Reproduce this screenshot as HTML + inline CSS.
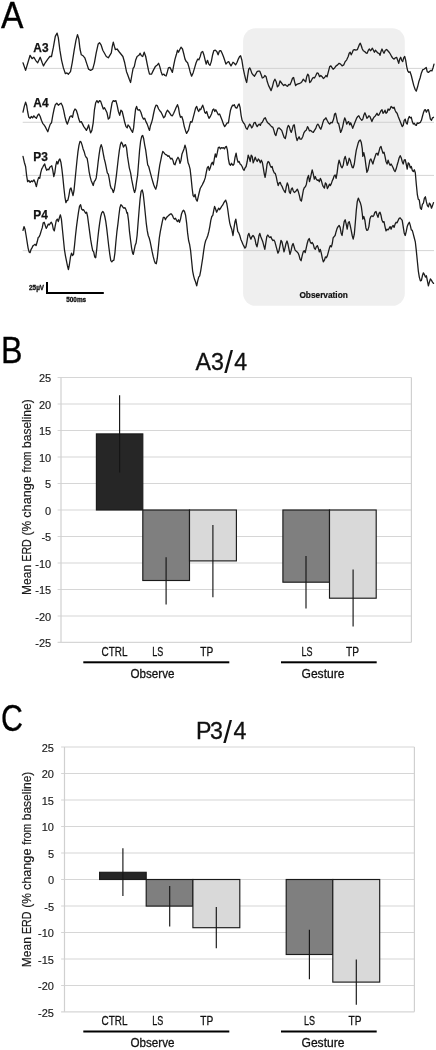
<!DOCTYPE html>
<html lang="en">
<head>
<meta charset="utf-8">
<title>Figure: EEG traces and mean ERD</title>
<style>
html,body{margin:0;padding:0;background:#fff;}
body{width:436px;height:1050px;overflow:hidden;}
svg{display:block;}
text{font-family:"Liberation Sans",Arial,Helvetica,sans-serif;fill:#111;}
.panel{font-size:36.2px;fill:#000;stroke:#000;stroke-width:0.3;}
.title{font-size:23.2px;fill:#111;stroke:#111;stroke-width:0.3;}
.tick{font-size:11px;text-anchor:end;fill:#1a1a1a;stroke:#1a1a1a;stroke-width:0.15;}
.cat{font-size:12.3px;text-anchor:middle;fill:#111;stroke:#111;stroke-width:0.28;}
.ylab{font-size:12.3px;fill:#1a1a1a;stroke:#1a1a1a;stroke-width:0.2;}
.ch{font-size:11.9px;font-weight:bold;fill:#111;stroke:#111;stroke-width:0.25;}
.sm{font-size:6.35px;font-weight:bold;fill:#111;stroke:#111;stroke-width:0.3;}
.obs{font-size:8.3px;font-weight:bold;fill:#111;text-anchor:middle;stroke:#111;stroke-width:0.2;}
.grid{stroke:#d6d6d6;stroke-width:1.1;}
.axis{stroke:#d0d0d0;stroke-width:1.2;}
.bar{stroke:#1a1a1a;stroke-width:1.15;}
.err{stroke:#151515;stroke-width:1.15;}
.base{stroke:#c9c9c9;stroke-width:0.8;}
.trace{fill:none;stroke:#1c1c1c;stroke-width:1.3;stroke-linejoin:round;stroke-linecap:round;}
</style>
</head>
<body>
<svg width="436" height="1050" viewBox="0 0 436 1050">
<rect width="436" height="1050" fill="#fff"/>
<!-- Panel A -->
<rect x="243.1" y="28.3" width="161.7" height="277.5" rx="12.5" ry="12.5" fill="#efefef"/>
<line x1="27.5" y1="68.4" x2="434" y2="68.4" class="base"/>
<line x1="22.7" y1="122.3" x2="434" y2="122.3" class="base"/>
<line x1="22.7" y1="175.4" x2="434" y2="175.4" class="base"/>
<line x1="22.7" y1="250.6" x2="434" y2="250.6" class="base"/>
<path class="trace" d="M23,62.8 L25.6,70.4 L30.1,55.3 L32.1,58.6 L33.9,57.3 L35.6,60.3 L37.7,62.8 L40.2,57.3 L42.2,62.8 L43.5,65.9 L45.2,62.8 L47.8,59.1 L49.8,56.5 L51.5,56.5 L53.3,47.7 L55.3,36.4 L57.1,33.1 L58.3,37.6 L59.9,50.2 L61.6,60.3 L63.4,67.9 L65.4,73.7 L66.9,72.9 L68.4,74.2 L70.5,71.7 L72.2,62.8 L74.2,50.2 L76,40.1 L77.5,34.6 L78.8,38.9 L80,49 L81.3,54.8 L83.1,55.8 L84.8,57.8 L86.9,64.1 L88.6,69.2 L90.6,70.4 L92.7,69.2 L94.4,62.8 L96.2,52.8 L98.2,43.9 L99.5,42.7 L101.2,45.2 L102.8,50.2 L104.5,53.3 L106.3,56.5 L108.3,57.8 L110.1,54.8 L111.3,52.8 L112.3,46.4 L113.3,42.2 L114.4,46.4 L115.4,49.7 L117.1,49 L118.9,51.5 L120.9,54 L122.9,56.5 L124.7,62.8 L126.5,71.7 L127.5,74.2 L129.3,79.2 L130.6,82.5 L131.8,75.5 L133.1,68.4 L134.3,66.6 L135.6,60.3 L137.1,56.5 L138.9,55.3 L140.1,53.3 L141.4,55.8 L142.7,56.5 L144.2,52.2 L145.7,56.5 L147.2,64.1 L148.5,70.4 L149.5,74.2 L151.5,74.2 L153.3,70.4 L155.3,66.6 L157.3,64.9 L158.6,63.3 L159.8,66.6 L161.1,71.7 L162.3,75 L163.9,74.2 L164.9,75.5 L166.1,76 L167.4,71.7 L168.4,67.9 L169.9,67.4 L171.2,69.9 L172.4,72.4 L173.7,65.4 L175,59.1 L176.5,54 L177.5,50.2 L178.5,52.2 L179.7,49.7 L181,47.2 L182.5,49 L183.8,54 L185,59.1 L186.3,61.6 L187.6,62.8 L188.8,66.6 L190.1,71.7 L191.6,76.2 L193.1,72.9 L194.6,67.9 L196.1,62.8 L197.7,59.1 L198.9,59.8 L200.2,56.5 L201.4,52.2 L202.7,51.5 L204,55.3 L205.2,60.3 L206.2,64.1 L207.5,60.3 L208.8,64.1 L210,65.4 L211.3,61.6 L212.5,55.3 L213.8,50.7 L215.3,50.2 L216.8,51.5 L218.1,54.8 L219.4,51 L220.9,50.7 L222.1,53.3 L223.4,56.5 L224.7,60.3 L225.9,64.1 L227.4,62.3 L228.7,61.6 L230,64.1 L231,65.9 L232.5,63.3 L233,62.3 L234.3,63.3 L235.6,64.9 L237.1,62.3 L238.3,59.1 L239.6,56.5 L240.6,55.8 L241.9,60.3 L243.1,67.9 L244.4,74.2 L245.6,79.2 L246.7,82.5 L247.7,75.5 L248.7,69.2 L249.7,67.9 L250.7,69.9 L251.9,73.4 L253.2,75 L254.5,76.2 L255.7,74.2 L257,71.7 L258.3,71.2 L259.8,71.2 L261,74.2 L262.3,78 L263.6,77.5 L264.8,75.5 L266.1,76.7 L267.3,81.8 L268.6,85.6 L269.9,88.1 L271.1,90.6 L272.4,86.8 L273.6,81.8 L274.9,79.2 L276.2,81.8 L277.4,86.8 L278.7,85.6 L280,81 L281.2,82.5 L282.5,84.3 L283.7,85.6 L285,84.5 L286.3,85.6 L287.5,86.3 L288.8,84.3 L290,84.8 L291.3,81.8 L292.6,78 L293.6,77.5 L294.6,81.8 L295.6,85.6 L296.9,84.3 L298.1,83.8 L299.4,83.5 L300.6,83 L301.9,81.8 L303.2,79.2 L304.4,80.5 L305.7,81.8 L306.7,76.7 L307.7,74.2 L308.7,75.5 L309.7,82.5 L310.7,81.8 L312,79.2 L313.3,77.5 L314.5,78 L315.8,75.5 L317,72.9 L318.3,73.4 L319.6,76.7 L320.8,75.5 L322.1,76.7 L323.3,78.5 L324.6,77.5 L325.9,75.5 L327.1,76.7 L328.4,71.7 L329.7,66.6 L330.9,65.9 L332.2,67.9 L333.1,69.2 L334.6,67.9 L336.1,65.9 L337.6,64.9 L339.1,63.3 L340.6,64.1 L342.1,65.9 L343.7,64.9 L345.2,61.6 L346.7,59.8 L348.2,56.5 L349.2,53.3 L350.2,52.2 L351.2,54.8 L352.2,52.8 L353.2,50.2 L354.5,49.7 L355.8,50.2 L357.3,49.7 L358.3,47.2 L359.3,44.7 L360.3,43.2 L361.3,45.7 L362.3,49 L363.3,50.7 L364.6,51.5 L365.9,52.8 L367.1,53.3 L368.4,50.2 L369.4,49 L370.4,50.7 L371.4,49.7 L372.4,48.2 L373.4,50.2 L374.4,52.2 L375.4,50.2 L376.5,51.5 L377.7,52.8 L379,53.3 L380,55.3 L381,51.5 L382,49 L383,51.5 L384,53.3 L385.3,50.2 L386.6,49.5 L387.8,50.7 L389.1,52.2 L390.3,54 L391.6,56.5 L392.9,58.3 L394.1,59.1 L395.4,57.8 L396.6,57.3 L397.7,60.3 L398.7,63.3 L399.7,59.1 L400.7,57.3 L401.7,60.3 L402.7,61.6 L403.7,57.8 L404.7,56.5 L405.7,60.3 L406.7,66.6 L407.7,70.9 L408.8,72.4 L410,71.7 L411.3,75.5 L412.5,80.5 L413.8,85.6 L415.1,89.3 L416.3,91.1 L417.6,86.8 L418.8,81.8 L420.1,78 L421.4,72.9 L422.6,69.9 L423.9,69.2 L425.2,68.4 L426.2,67.4 L427.2,71.7 L428.4,72.4 L429.7,71.2 L431,70.4 L432,70.9 L433,67.9 L434,64.1"/>
<path class="trace" d="M23,112.2 L24.3,106.4 L25.6,102.2 L26.6,105.2 L27.6,111.5 L28.8,117.3 L30.1,118.3 L31.4,116.5 L32.6,117.8 L33.9,115.8 L35.1,117.3 L36.4,118.3 L37.7,115.3 L38.9,114 L40.2,116.5 L41.4,120.3 L42.7,123.3 L44,124.9 L45.2,126.6 L46.5,129.2 L47.8,131.7 L49,127.9 L50.3,124.1 L51.5,122.8 L52.8,115.3 L54.1,109 L55.3,104.7 L56.8,103.2 L58.3,105.2 L59.9,103.9 L61.1,103.2 L62.4,105.7 L63.6,110.2 L64.9,116.5 L66.2,121.6 L67.4,124.1 L68.7,120.3 L70,116.5 L71.2,115.8 L72.5,117.3 L73.7,111.5 L75,109 L76.3,110.2 L77.5,114 L78.8,119.1 L80,122.3 L81.3,121.6 L82.6,124.1 L83.8,126.6 L85.1,128.4 L86.4,130.4 L87.6,127.9 L88.6,124.9 L89.6,129.2 L90.6,132.9 L91.9,130.4 L93.2,122.8 L94.4,110.2 L95.7,102.7 L96.9,100.6 L98.2,102.7 L99.5,100.6 L100.7,101.4 L102,105.2 L103.3,109 L104.5,107.7 L105.8,110.2 L107,112.8 L108.3,119.1 L109.6,117.8 L110.8,110.2 L112.1,102.7 L113.3,100.6 L114.6,101.4 L115.9,100.6 L117.1,105.2 L118.4,111.5 L119.7,115.3 L120.9,110.2 L122.2,111.5 L123.4,116.5 L124.7,122.3 L126,126.6 L127.2,127.9 L128,124.9 L129.5,126.6 L131.1,129.9 L132.6,132.4 L133.6,127.9 L134.6,117.8 L135.6,109 L136.6,106.4 L137.6,109.7 L138.6,110.2 L139.6,109.7 L140.9,112.2 L142.2,116.5 L143.4,119.1 L144.7,118.3 L145.9,121.6 L147.2,124.1 L148.5,127.9 L149.5,130.4 L150.5,125.4 L151.5,122.8 L152.5,119.1 L153.5,114 L154.8,108.2 L156,105.2 L157.3,105.7 L158.6,109 L159.8,110.7 L161.1,112.2 L162.3,114.8 L163.6,117.8 L164.9,116.5 L166.1,112.8 L167.4,110.2 L168.6,111.5 L169.9,113.3 L171.2,115.3 L172.4,115.8 L173.7,113.3 L175,110.2 L176.2,107.2 L177.5,104.7 L178.5,107.7 L179.5,114 L180.5,117.3 L181.8,116.5 L183,120.3 L184.3,126.6 L185.6,130.9 L186.6,133.4 L187.6,131.7 L188.6,129.9 L189.6,125.4 L190.6,121.6 L191.9,122.3 L193.1,117.8 L194.4,112.8 L195.6,108.2 L196.7,106.4 L197.7,109.7 L198.7,111.5 L199.7,109 L200.7,109.7 L201.7,107.2 L202.7,105.2 L203.7,108.2 L204.7,112.2 L205.7,113.3 L206.7,111.5 L207.8,115.3 L209,118.3 L210.3,116.5 L211.5,114 L212.8,109.7 L213.8,109 L214.8,111.5 L215.8,109.7 L217.1,112.2 L218.3,114.8 L219.6,114 L220.9,117.3 L222.1,120.3 L223.4,124.1 L224.7,126.6 L225.9,124.9 L227.2,122.8 L228.4,122.8 L229.4,116.5 L230.5,110.2 L231.5,107.2 L232.5,105.2 L233,105.7 L234.3,104.7 L235.6,107.7 L236.8,108.2 L238.1,105.2 L239.1,103.9 L240.1,107.7 L241.1,115.3 L242.1,120.3 L243.4,122.8 L244.6,124.1 L245.9,127.9 L247.2,129.2 L248.4,126.6 L249.7,124.1 L250.7,125.4 L251.7,127.9 L252.7,126.6 L254,122.8 L255.2,122.3 L256.2,124.9 L257.2,126.6 L258.3,124.9 L259.3,124.1 L260.3,125.4 L261.3,122.8 L262.3,122.3 L263.3,120.3 L264.3,118.3 L265.3,117.8 L266.3,120.3 L267.3,122.3 L268.3,123.3 L269.4,124.1 L270.4,125.4 L271.6,126.6 L272.9,127.4 L273.9,130.4 L274.9,134.2 L275.9,135.5 L276.9,131.7 L277.9,128.4 L279.2,127.9 L280.5,129.2 L281.7,130.4 L283,134.2 L284.2,137.5 L285.3,138.5 L286.3,134.2 L287.3,127.9 L288.3,125.4 L289.3,126.6 L290.3,130.4 L291.3,132.4 L292.3,129.2 L293.3,125.4 L294.3,124.9 L295.1,130.4 L296.1,136.7 L297.1,140.5 L298.1,138.5 L299.1,136.7 L300.1,139.2 L301.4,139.2 L302.7,136.7 L303.9,132.9 L305.2,130.9 L306.4,129.9 L307.5,126.6 L308.5,128.4 L309.5,130.9 L310.7,130.4 L312,131.7 L313.3,132.4 L314.5,130.4 L315.8,128.4 L316.8,125.4 L317.8,124.1 L318.8,125.4 L319.8,127.9 L320.8,129.2 L321.8,126.6 L322.8,122.8 L323.9,119.8 L324.9,119.1 L325.9,117.8 L327.1,120.3 L328.4,122.8 L329.7,124.1 L330.9,122.3 L332.2,122.8 L333.6,119.1 L334.6,114 L335.6,113.3 L336.6,117.8 L337.6,122.8 L338.6,123.3 L339.6,127.9 L340.6,132.4 L341.6,130.4 L342.7,126.6 L343.7,121.6 L344.7,117.8 L345.7,120.3 L346.7,124.1 L347.7,122.3 L348.7,121.6 L349.7,124.9 L350.7,122.8 L351.7,125.4 L352.7,128.4 L353.8,125.4 L354.8,122.8 L355.8,120.3 L356.8,117.8 L357.8,116.5 L358.8,115.8 L359.8,117.8 L360.8,119.1 L361.8,120.3 L362.8,119.1 L363.8,115.3 L364.9,112.8 L365.9,115.3 L366.9,118.3 L367.9,117.3 L368.9,115.8 L369.9,116.5 L370.9,119.1 L371.9,121.6 L372.9,119.1 L373.9,117.3 L374.9,116.5 L376,114.8 L377,113.3 L378,115.3 L379,114.8 L380,112.8 L381,110.7 L382,109.7 L383,113.3 L384,112.2 L385,110.2 L386,113.3 L387.1,112.2 L388.1,109 L389.1,110.2 L390.1,109 L391.1,106.4 L392.1,107.2 L393.1,108.2 L394.1,107.2 L395.1,110.2 L396.1,112.2 L397.1,113.3 L398.2,116.5 L399.2,119.1 L400.2,121.6 L401.2,124.1 L402.2,126.6 L403.2,125.4 L404.2,120.3 L405.2,119.1 L406.2,122.8 L407.2,124.1 L408.2,119.1 L409.3,116.5 L410.3,117.8 L411.3,117.3 L412.3,121.6 L413.3,124.1 L414.3,123.3 L415.3,124.9 L416.3,125.4 L417.3,122.8 L418.3,123.3 L419.3,122.8 L420.4,122.3 L421.4,120.3 L422.4,116.5 L423.4,112.8 L424.4,110.2 L425.4,109.7 L426.4,112.2 L427.4,110.2 L428.4,109.7 L429.4,114 L430.4,119.1 L431.5,120.3 L432.5,117.8 L433.5,117.3"/>
<path class="trace" d="M23,156.4 L24.3,162.2 L25.6,166.5 L26.6,175.4 L27.6,181.7 L28.8,180.4 L30.1,182.4 L31.4,180.9 L32.6,181.7 L33.9,179.9 L35.1,182.4 L36.4,186.7 L37.7,180.4 L38.7,177.4 L39.7,178.4 L40.7,172.8 L41.7,169.1 L42.7,167.3 L43.7,165.3 L44.7,164 L45.7,167.8 L46.7,170.3 L47.8,169.1 L48.8,169.8 L49.8,167.3 L50.8,166.5 L51.8,165.8 L52.8,170.3 L53.8,176.6 L54.8,172.8 L55.8,165.3 L56.8,161.5 L57.8,164 L58.9,160.2 L59.9,159 L60.9,162.2 L61.9,169.1 L62.9,177.9 L63.9,188 L64.9,196.8 L65.9,202.6 L66.9,200.6 L67.9,200.1 L68.9,195.6 L70,189.2 L71,188 L72,191.8 L73,195.6 L74,190.5 L75,180.4 L76,170.3 L77,160.2 L78,151.4 L79,145.1 L80,141.3 L81.1,142.1 L82.1,145.1 L83.1,148.9 L84.1,151.4 L85.1,155.2 L86.1,157.2 L87.1,158.2 L88.1,164 L89.1,171.6 L90.1,176.6 L91.1,180.4 L92.2,182.9 L93.2,185.5 L94.2,181.7 L95.2,180.4 L96.2,177.9 L97.2,170.3 L98.2,161.5 L99.2,153.9 L100.2,147.6 L101.2,144.6 L102.2,147.6 L103.3,153.9 L104.3,159 L105.3,162.8 L106.3,167.8 L107.3,172.8 L108.3,174.1 L109.3,179.2 L110.3,185.5 L111.3,188.5 L112.3,189.2 L113.3,192.5 L114.4,189.2 L115.4,182.9 L116.4,175.4 L117.4,166.5 L118.4,157.7 L119.4,150.1 L120.4,144.6 L121.4,142.1 L122.4,143.8 L123.4,147.1 L124.4,145.6 L125.5,144.6 L126.5,147.6 L127.5,156.4 L128.3,161.5 L129.3,167.8 L130.6,172.8 L131.6,179.2 L132.6,184.2 L133.6,189.2 L134.6,192.5 L135.6,189.2 L136.6,181.7 L137.6,175.4 L138.6,162.8 L139.6,150.1 L140.6,141.3 L141.7,136.3 L142.7,135.5 L143.7,138.8 L144.7,145.1 L145.7,150.1 L146.7,157.7 L147.7,164.8 L148.7,166.5 L149.7,170.3 L150.7,174.1 L151.7,177.9 L152.8,181.7 L153.8,185 L154.8,187.5 L155.8,189.2 L156.8,185.5 L157.8,179.2 L158.8,171.6 L159.8,164.8 L160.8,160.2 L161.8,155.2 L162.8,151.4 L163.9,152.7 L164.9,153.9 L165.9,154.7 L166.9,155.2 L167.9,156.4 L168.9,155.7 L169.9,157.7 L170.9,159 L171.9,158.2 L172.9,160.2 L173.9,164 L175,164.8 L176,161.5 L177,159 L178,157.2 L179,159 L180,163.3 L181,160.2 L182,153.9 L183,151.4 L184,148.9 L185,145.1 L186.1,148.9 L187.1,156.4 L188.1,162.8 L189.1,165.3 L190.1,169.1 L191.1,177.9 L192.1,188 L193.1,195.6 L194.1,196.8 L195.1,194.3 L196.1,199.3 L197.2,201.1 L198.2,196.8 L199.2,192.5 L200.2,188.5 L201.2,186.7 L202.2,185 L203.2,182.9 L204.2,180.9 L205.2,177.9 L206.2,172.8 L207.2,167.8 L208.3,166.5 L209.3,170.3 L210.3,167.8 L211.3,164 L212.3,162.2 L213.3,164.8 L214.3,159 L215.3,153.9 L216.3,157.2 L217.3,152.7 L218.3,147.6 L219.4,147.1 L220.4,148.9 L221.4,147.6 L222.4,148.1 L223.4,147.6 L224.4,148.9 L225.4,147.1 L226.4,146.4 L227.4,150.1 L228.4,159 L229.4,164 L230.5,165.3 L231.5,163.3 L232.5,164.8 L233,165.3 L234,164 L235,157.7 L236.1,153.2 L237.1,159 L238.1,162.2 L239.1,161.5 L240.1,164 L241.1,164.8 L242.1,166.5 L243.1,169.1 L244.1,170.3 L245.1,167.8 L246.1,166.5 L247.2,161.5 L248.2,155.2 L249.2,157.7 L250.2,161.5 L251.2,155.2 L252.2,156.4 L253.2,162.8 L254.2,160.2 L255.2,157.2 L256.2,159.7 L257.2,161.5 L258.3,159 L259.3,160.2 L260.3,162.8 L261.3,160.2 L262.3,162.2 L263.3,167.8 L264.3,174.1 L265.1,177.4 L266.1,171.6 L267.1,164 L268.1,161.5 L269.1,162.2 L270.1,165.3 L271.1,167.3 L272.1,166.5 L273.1,170.3 L274.2,172.8 L275.2,173.3 L276.2,176.6 L277.2,181.7 L278.2,185.5 L279.2,182.9 L280.2,182.4 L281.2,185 L282.2,186.7 L283.2,189.2 L284.2,191 L285.3,192.5 L286.3,186.7 L287.3,182.9 L288.3,185.5 L289.3,191.8 L290.3,193.5 L291.3,189.2 L292.3,188 L293.3,191 L294.3,192.5 L295.3,191.8 L296.4,190.5 L297.4,189.2 L298.4,191.8 L299.4,195.6 L300.4,200.1 L301.4,201.1 L302.4,195.6 L303.4,190 L304.4,187.5 L305.4,186.7 L306.4,184.2 L307.5,177.9 L308.5,175.4 L309.5,181.7 L310.5,177.9 L311.5,172.8 L312.2,169.8 L313.3,174.1 L314.3,179.2 L315.3,176.6 L316.3,179.2 L317.3,180.4 L318.3,179.9 L319.3,181.7 L320.3,178.4 L321.3,180.4 L322.3,184.2 L323.3,186.7 L324.4,188 L325.4,182.9 L326.4,184.2 L327.4,188.5 L328.4,186.7 L329.4,184.2 L330.4,185.5 L331.4,183.4 L332.4,180.4 L333.1,179.2 L334.1,175.9 L335.1,174.9 L336.1,178.4 L337.1,172.8 L338.1,164.8 L339.1,160.2 L340.1,163.3 L341.1,166.5 L342.1,167.8 L343.2,165.3 L344.2,159 L345.2,156.4 L346.2,160.2 L347.2,165.3 L348.2,162.8 L349.2,158.2 L350.2,160.2 L351.2,164 L352.2,167.3 L353.2,167.8 L354.3,164 L355.3,156.4 L356.3,150.1 L357.3,146.4 L358.3,142.6 L359.3,140.6 L360.3,140 L361.3,142.6 L362.3,148.9 L362.8,156.4 L363.8,152.7 L364.9,157.7 L365.9,165.3 L366.9,172.3 L367.9,170.3 L368.9,165.3 L369.9,160.2 L370.9,159 L371.9,161.5 L372.9,164 L373.9,160.2 L374.9,157.2 L376,153.9 L377,153.2 L378,155.2 L379,151.4 L380,147.6 L381,146.4 L382,150.1 L383,153.2 L384,152.2 L385,156.4 L386,161.5 L387.1,164 L388.1,160.2 L389.1,163.3 L390.1,165.3 L391.1,164 L392.1,165.8 L393.1,167.8 L394.1,170.3 L395.1,171.6 L396.1,169.1 L397.1,165.3 L398.2,161.5 L399.2,157.7 L400.2,155.7 L401.2,157.7 L402.2,161.5 L403.2,164 L404.2,160.2 L405.2,159.7 L406.2,164 L407.2,169.1 L408.2,162.8 L409.3,164 L410.3,167.8 L411.3,166.5 L412.3,170.3 L413.3,171.6 L414.3,169.8 L415.3,172.8 L416.3,184.2 L417.3,194.3 L418.3,199.3 L419.3,200.1 L420.4,208.2 L421.4,209.4 L422.4,204.4 L423.4,203.1 L424.4,198.1 L425.4,196.8 L426.4,201.9 L427.4,205.6 L428.4,206.9 L429.4,203.1 L430.4,204.4 L431.5,208.2 L432.5,205.6 L433.5,202.6"/>
<path class="trace" d="M23,230.4 L24,226.6 L25,229.2 L26.1,235.5 L27.1,241.8 L28.1,248.1 L29.1,251.9 L30.1,252.6 L31.1,249.3 L32.1,247.6 L33.1,245.6 L34.1,245 L35.1,244.3 L36.1,245.6 L37.2,241.8 L38.2,237.5 L39.2,236.7 L40.2,234.2 L41.2,230.9 L42.2,227.9 L43.2,222.8 L44.2,222.3 L45.2,225.4 L46.2,228.4 L47.2,226.6 L48.3,224.1 L49.3,224.9 L50.3,223.3 L51.3,222.3 L52.3,224.1 L53.3,229.2 L54.3,230.9 L55.3,225.4 L56.3,220.3 L57.3,219.1 L58.3,221.6 L59.4,217.8 L60.4,214.8 L61.4,219.1 L62.4,229.2 L63.4,239.2 L64.4,249.3 L65.4,255.6 L66.4,260.7 L67.4,265.7 L68.4,269.5 L69.4,264.5 L70.5,256.9 L71.5,253.1 L72.5,255.6 L73.5,254.4 L74.5,245.6 L75.5,235.5 L76.5,226.6 L77.5,219.1 L78.5,212.2 L79.5,206.4 L80.6,204.7 L81.6,209 L82.6,210.2 L83.6,209.7 L84.6,211.5 L85.6,213.3 L86.6,212.2 L87.6,216.5 L88.6,224.1 L89.6,231.7 L90.6,239.2 L91.7,245.6 L92.7,250.6 L93.7,251.9 L94.7,256.9 L95.7,257.7 L96.7,249.3 L97.7,239.2 L98.7,230.4 L99.7,222.8 L100.7,216.5 L101.7,212.8 L102.8,211.5 L103.8,212.8 L104.8,216.5 L105.8,221.6 L106.8,229.2 L107.8,238 L108.8,246.8 L109.8,254.4 L110.8,260.7 L111.8,261.9 L112.8,260.7 L113.9,260.2 L114.9,253.1 L115.9,241.8 L116.9,231.7 L117.9,224.1 L118.9,215.3 L119.9,207.7 L120.9,204.7 L121.9,205.7 L122.9,207.2 L123.9,208.2 L125,207.7 L126,209.7 L127,213.3 L127.5,212.8 L128.5,220.3 L129.5,231.7 L130.6,240.5 L131.6,248.1 L132.6,253.1 L133.3,254.4 L134.1,250.6 L135.1,245.6 L136.1,243 L137.1,235.5 L138.1,222.8 L139.1,210.2 L140.1,198.9 L141.1,191.3 L142.2,190 L143.2,193.8 L144.2,202.7 L145.2,212.8 L146.2,222.8 L147.2,230.4 L148.2,235.5 L149.2,238 L150.2,241.8 L151.2,246.8 L152.2,251.9 L153.3,256.9 L154.3,260.7 L155.3,263.2 L156.3,263.7 L157.3,258.2 L158.3,248.1 L159.3,238 L160.3,231.7 L161.3,226.6 L162.3,221.6 L163.3,217.3 L164.4,217.3 L165.4,219.8 L166.4,217.8 L167.4,216.5 L168.4,215.8 L169.4,214.8 L170.4,214 L171.4,214 L172.4,215.3 L173.4,217.8 L174.4,219.1 L175.5,218.3 L176.5,220.3 L177.5,221.6 L178.5,219.8 L179.5,222.3 L180.5,219.1 L181.5,214 L182.5,211.5 L183.5,210.2 L184.5,211.5 L185.6,215.3 L186.6,222.8 L187.6,232.9 L188.6,240.5 L189.6,244.3 L190.6,250.6 L191.6,260.7 L192.6,270.8 L193.6,275.8 L194.6,279.6 L195.6,282.1 L196.7,285.9 L197.7,280.9 L198.7,277.1 L199.7,275.8 L200.7,270.8 L201.7,264.5 L202.7,258.2 L203.7,250.6 L204.7,244.3 L205.7,240.5 L206.7,238.5 L207.8,235.5 L208.8,231.7 L209.8,226.6 L210.8,220.3 L211.8,216.5 L212.8,215.3 L213.8,210.2 L214.6,206.4 L215.6,209 L216.6,212.2 L217.6,210.2 L218.6,208.2 L219.6,209.7 L220.6,208.2 L221.6,206.4 L222.6,205.2 L223.6,203.2 L224.7,201.4 L225.7,200.1 L226.7,203.2 L227.7,209 L228.7,216.5 L229.7,222.8 L230.7,226.6 L231.7,229.2 L233,235.5 L234,227.9 L235,221.6 L235.8,219.1 L236.8,225.4 L237.8,231.7 L238.8,232.9 L239.8,235.5 L240.8,239.2 L241.9,241.8 L242.9,244.3 L243.9,246.1 L244.9,248.1 L245.9,246.8 L246.9,241.8 L247.9,235.5 L248.9,233.4 L249.9,236.7 L250.9,239.2 L251.9,236.7 L253,235.5 L254,236.7 L255,239.2 L256,244.3 L257,246.8 L258,241.8 L259,235.5 L259.8,233.4 L260.8,236.7 L261.8,239.2 L262.8,241.8 L263.8,245.6 L264.8,249.3 L265.8,243 L266.8,236.7 L267.8,235 L268.9,236.7 L269.9,237.5 L270.9,236.7 L271.9,239.2 L272.9,240.5 L273.9,240 L274.9,241.8 L275.9,245.6 L276.9,249.3 L277.9,253.1 L278.9,251.1 L280,245.6 L281,240.5 L282,241.8 L283,246.8 L284,251.9 L285,248.1 L286,243.5 L287,241 L288,244.3 L289,249.3 L290,254.4 L291.1,250.6 L292.1,245.6 L293.1,243.5 L294.1,246.8 L295.1,250.1 L296.1,251.1 L297.1,251.9 L298.1,253.1 L299.1,255.6 L300.1,259.4 L301.1,260.7 L302.2,255.6 L303.2,251.9 L304.2,250.6 L305.2,252.6 L306.2,248.1 L307.2,243.5 L308.2,240 L309.2,238.5 L310.2,241.8 L311.2,243.5 L312.2,242.5 L313.3,244.3 L314.3,248.1 L315.3,249.3 L316.3,246.8 L317.3,245.6 L318.3,248.1 L319.3,251.9 L320.3,249.3 L321.3,253.1 L322.3,258.2 L323.3,261.9 L324.4,260.2 L325.4,256.9 L326.4,257.7 L327.4,255.6 L328.4,251.9 L329.4,248.1 L330.4,245.6 L331.4,246.8 L332.4,243 L333.1,238 L334.1,236.7 L335.1,235.5 L336.1,231.7 L337.1,228.4 L338.1,226.6 L339.1,225.4 L340.1,227.4 L341.1,232.9 L342.1,235.5 L343.2,227.9 L344.2,221.6 L345.2,219.8 L346.2,224.1 L347.2,229.2 L348.2,222.8 L349.2,221.6 L350.2,225.4 L351.2,230.4 L352.2,235.5 L353.2,239.2 L354.3,234.2 L355.3,222.8 L356.3,210.2 L357.3,201.4 L358.3,198.1 L359.3,200.6 L360.3,202.7 L361.3,206.4 L362.3,214 L362.8,219.1 L363.8,216.5 L364.9,220.3 L365.9,227.9 L366.9,230.4 L367.9,229.9 L368.9,226.6 L369.9,219.1 L370.9,216.5 L371.9,215.8 L372.9,216.5 L373.9,215.3 L374.9,212.2 L376,211.5 L377,214.8 L378,217.3 L379,213.3 L380,212.2 L381,215.3 L382,220.3 L383,222.3 L384,221.6 L385,226.6 L386,230.9 L387.1,229.2 L388.1,229.9 L389.1,228.4 L390.1,226.6 L391.1,229.2 L392.1,226.6 L393.1,225.4 L394.1,227.4 L395.1,224.1 L396.1,222.3 L397.1,222.8 L398.2,220.3 L399.2,218.3 L400.2,217.8 L401.2,219.1 L402.2,220.3 L403.2,226.6 L404.2,232.9 L405.2,235.5 L406.2,231.7 L407.2,226.6 L408.2,224.1 L409.3,222.3 L410.3,225.4 L411.3,229.9 L412.3,230.4 L413.3,234.2 L414.3,238 L415.3,241.8 L416.3,250.6 L417.3,260.7 L418.3,270.8 L419.3,277.1 L420.4,280.9 L421.4,280.4 L422.4,275.8 L423.4,272.8 L424.4,274.6 L425.4,277.1 L426.4,275.8 L427.4,280.9 L428.4,285.9 L429.4,282.1 L430.4,278.9 L431.5,280.4 L432.5,282.1 L433.5,283.4"/>
<text transform="translate(1.0,27.8) scale(0.93,1)" class="panel">A</text>
<text x="33.3" y="52" class="ch">A3</text>
<text x="33.3" y="106.8" class="ch">A4</text>
<text x="33.3" y="161.2" class="ch">P3</text>
<text x="33.3" y="219" class="ch">P4</text>
<path d="M47,282.1 V293 H103.8" fill="none" stroke="#000" stroke-width="2"/>
<text x="29.1" y="290" class="sm">25µV</text>
<text x="66.3" y="301.8" class="sm">500ms</text>
<text x="323.6" y="298.3" class="obs">Observation</text>
<!-- Panel B -->
<text transform="translate(1.0,362.6) scale(0.89,1)" class="panel">B</text>
<text class="title" y="369.7"><tspan x="195.6">A</tspan><tspan x="211.0">3</tspan><tspan x="224.2" y="373.4" font-size="31.6" stroke="none">/</tspan><tspan x="234.2" y="369.7">4</tspan></text>
<g>
<line x1="57.60" y1="377.50" x2="411.40" y2="377.50" class="grid"/>
<line x1="57.60" y1="404.00" x2="411.40" y2="404.00" class="grid"/>
<line x1="57.60" y1="430.50" x2="411.40" y2="430.50" class="grid"/>
<line x1="57.60" y1="457.00" x2="411.40" y2="457.00" class="grid"/>
<line x1="57.60" y1="483.50" x2="411.40" y2="483.50" class="grid"/>
<line x1="57.60" y1="510.00" x2="411.40" y2="510.00" class="grid"/>
<line x1="57.60" y1="536.50" x2="411.40" y2="536.50" class="grid"/>
<line x1="57.60" y1="563.00" x2="411.40" y2="563.00" class="grid"/>
<line x1="57.60" y1="589.50" x2="411.40" y2="589.50" class="grid"/>
<line x1="57.60" y1="616.00" x2="411.40" y2="616.00" class="grid"/>
<line x1="57.60" y1="642.35" x2="411.40" y2="642.35" class="grid"/>
<line x1="61.00" y1="377.50" x2="61.00" y2="642.35" class="axis"/>
<line x1="411.40" y1="377.50" x2="411.40" y2="642.35" class="axis"/>
<rect x="96.40" y="433.90" width="46.40" height="76.10" fill="#262626" class="bar"/>
<rect x="142.80" y="510.00" width="46.70" height="70.50" fill="#7f7f7f" class="bar"/>
<rect x="189.50" y="510.00" width="46.90" height="50.90" fill="#d9d9d9" class="bar"/>
<rect x="282.90" y="510.00" width="46.60" height="72.20" fill="#7f7f7f" class="bar"/>
<rect x="329.50" y="510.00" width="46.70" height="88.20" fill="#d9d9d9" class="bar"/>
<line x1="119.60" y1="395.30" x2="119.60" y2="472.40" class="err"/>
<line x1="166.10" y1="557.20" x2="166.10" y2="604.50" class="err"/>
<line x1="212.90" y1="524.90" x2="212.90" y2="597.20" class="err"/>
<line x1="306.00" y1="556.00" x2="306.00" y2="608.50" class="err"/>
<line x1="353.10" y1="569.60" x2="353.10" y2="626.50" class="err"/>
<text x="51.2" y="382.4" class="tick">25</text>
<text x="51.2" y="408.9" class="tick">20</text>
<text x="51.2" y="435.4" class="tick">15</text>
<text x="51.2" y="461.9" class="tick">10</text>
<text x="51.2" y="488.4" class="tick">5</text>
<text x="51.2" y="514.9" class="tick">0</text>
<text x="51.2" y="541.4" class="tick">-5</text>
<text x="51.2" y="567.9" class="tick">-10</text>
<text x="51.2" y="594.4" class="tick">-15</text>
<text x="51.2" y="620.9" class="tick">-20</text>
<text x="51.2" y="647.4" class="tick">-25</text>
</g>
<text transform="translate(30.9,0) rotate(-90)" class="ylab"><tspan x="-594.9" textLength="30.0" lengthAdjust="spacingAndGlyphs">Mean</tspan> <tspan x="-561.7" textLength="22.5" lengthAdjust="spacingAndGlyphs">ERD</tspan> <tspan x="-535.5" textLength="14.7" lengthAdjust="spacingAndGlyphs">(%</tspan> <tspan x="-517.7" textLength="41.4" lengthAdjust="spacingAndGlyphs">change</tspan> <tspan x="-472.4" textLength="20.9" lengthAdjust="spacingAndGlyphs">from</tspan> <tspan x="-447.9" textLength="48.5" lengthAdjust="spacingAndGlyphs">baseline)</tspan></text>
<text x="114.5" y="655.8" class="cat" textLength="26" lengthAdjust="spacingAndGlyphs">CTRL</text>
<text x="157.8" y="655.8" class="cat" textLength="11" lengthAdjust="spacingAndGlyphs">LS</text>
<text x="206.8" y="655.8" class="cat" textLength="13" lengthAdjust="spacingAndGlyphs">TP</text>
<text x="307.0" y="655.8" class="cat" textLength="11" lengthAdjust="spacingAndGlyphs">LS</text>
<text x="352.6" y="655.8" class="cat" textLength="13" lengthAdjust="spacingAndGlyphs">TP</text>
<rect x="83.3" y="661.3" width="146" height="2" fill="#000"/>
<rect x="281" y="661.3" width="95.7" height="2" fill="#000"/>
<text x="152.5" y="677.6" class="cat" textLength="44" lengthAdjust="spacingAndGlyphs">Observe</text>
<text x="323" y="677.6" class="cat" textLength="43" lengthAdjust="spacingAndGlyphs">Gesture</text>
<!-- Panel C -->
<text transform="translate(1.0,731.4) scale(0.84,1)" class="panel">C</text>
<text class="title" y="738.7"><tspan x="195.9">P</tspan><tspan x="209.9">3</tspan><tspan x="223.2" y="742.6" font-size="31.6" stroke="none">/</tspan><tspan x="233.4" y="738.7">4</tspan></text>
<g>
<line x1="61.10" y1="747.00" x2="414.40" y2="747.00" class="grid"/>
<line x1="61.10" y1="773.50" x2="414.40" y2="773.50" class="grid"/>
<line x1="61.10" y1="800.00" x2="414.40" y2="800.00" class="grid"/>
<line x1="61.10" y1="826.50" x2="414.40" y2="826.50" class="grid"/>
<line x1="61.10" y1="853.00" x2="414.40" y2="853.00" class="grid"/>
<line x1="61.10" y1="879.50" x2="414.40" y2="879.50" class="grid"/>
<line x1="61.10" y1="906.00" x2="414.40" y2="906.00" class="grid"/>
<line x1="61.10" y1="932.50" x2="414.40" y2="932.50" class="grid"/>
<line x1="61.10" y1="959.00" x2="414.40" y2="959.00" class="grid"/>
<line x1="61.10" y1="985.50" x2="414.40" y2="985.50" class="grid"/>
<line x1="61.10" y1="1011.85" x2="414.40" y2="1011.85" class="grid"/>
<line x1="64.50" y1="747.00" x2="64.50" y2="1011.85" class="axis"/>
<line x1="414.40" y1="747.00" x2="414.40" y2="1011.85" class="axis"/>
<rect x="99.60" y="872.30" width="46.60" height="7.20" fill="#262626" class="bar"/>
<rect x="146.20" y="879.50" width="46.70" height="26.60" fill="#7f7f7f" class="bar"/>
<rect x="192.90" y="879.50" width="46.90" height="48.20" fill="#d9d9d9" class="bar"/>
<rect x="286.20" y="879.50" width="46.60" height="75.00" fill="#7f7f7f" class="bar"/>
<rect x="332.80" y="879.50" width="46.90" height="102.60" fill="#d9d9d9" class="bar"/>
<line x1="122.90" y1="848.30" x2="122.90" y2="896.00" class="err"/>
<line x1="169.70" y1="886.00" x2="169.70" y2="926.50" class="err"/>
<line x1="216.30" y1="907.00" x2="216.30" y2="948.20" class="err"/>
<line x1="309.40" y1="929.70" x2="309.40" y2="979.20" class="err"/>
<line x1="356.30" y1="959.50" x2="356.30" y2="1004.80" class="err"/>
<text x="54.0" y="751.9" class="tick">25</text>
<text x="54.0" y="778.4" class="tick">20</text>
<text x="54.0" y="804.9" class="tick">15</text>
<text x="54.0" y="831.4" class="tick">10</text>
<text x="54.0" y="857.9" class="tick">5</text>
<text x="54.0" y="884.4" class="tick">0</text>
<text x="54.0" y="910.9" class="tick">-5</text>
<text x="54.0" y="937.4" class="tick">-10</text>
<text x="54.0" y="963.9" class="tick">-15</text>
<text x="54.0" y="990.4" class="tick">-20</text>
<text x="54.0" y="1016.9" class="tick">-25</text>
</g>
<text transform="translate(30.9,0) rotate(-90)" class="ylab"><tspan x="-967.2" textLength="30.0" lengthAdjust="spacingAndGlyphs">Mean</tspan> <tspan x="-934.0" textLength="22.5" lengthAdjust="spacingAndGlyphs">ERD</tspan> <tspan x="-907.8" textLength="14.7" lengthAdjust="spacingAndGlyphs">(%</tspan> <tspan x="-890.0" textLength="41.4" lengthAdjust="spacingAndGlyphs">change</tspan> <tspan x="-844.7" textLength="20.9" lengthAdjust="spacingAndGlyphs">from</tspan> <tspan x="-820.2" textLength="48.5" lengthAdjust="spacingAndGlyphs">baseline)</tspan></text>
<text x="114.5" y="1025.0" class="cat" textLength="26" lengthAdjust="spacingAndGlyphs">CTRL</text>
<text x="157.8" y="1025.0" class="cat" textLength="11" lengthAdjust="spacingAndGlyphs">LS</text>
<text x="206.8" y="1025.0" class="cat" textLength="13" lengthAdjust="spacingAndGlyphs">TP</text>
<text x="309.5" y="1025.0" class="cat" textLength="11" lengthAdjust="spacingAndGlyphs">LS</text>
<text x="355.1" y="1025.0" class="cat" textLength="13" lengthAdjust="spacingAndGlyphs">TP</text>
<rect x="83.3" y="1030.5" width="146" height="2" fill="#000"/>
<rect x="281" y="1030.5" width="95.7" height="2" fill="#000"/>
<text x="152.5" y="1046.8" class="cat" textLength="44" lengthAdjust="spacingAndGlyphs">Observe</text>
<text x="323" y="1046.8" class="cat" textLength="43" lengthAdjust="spacingAndGlyphs">Gesture</text>
</svg>
</body>
</html>
